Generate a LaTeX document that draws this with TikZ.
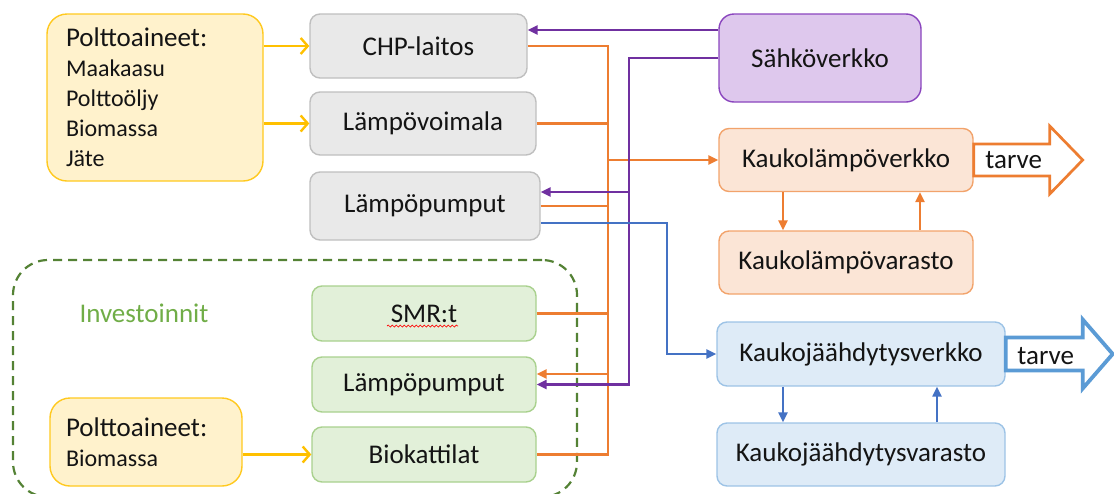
\documentclass[tikz,border=0pt]{standalone}
\usepackage{fontspec}
\setmainfont{Carlito}
\usetikzlibrary{arrows.meta,decorations.pathmorphing}
\definecolor{txt}{HTML}{141414}
\definecolor{greyfill}{HTML}{E9E9E9}
\definecolor{greyline}{HTML}{BFBFBF}
\definecolor{purfill}{HTML}{DEC8ED}
\definecolor{purline}{HTML}{8A45BE}
\definecolor{orgfill}{HTML}{FBE5D6}
\definecolor{orgline}{HTML}{F2A36B}
\definecolor{blufill}{HTML}{DEEBF7}
\definecolor{bluline}{HTML}{9DC3E6}
\definecolor{grnfill}{HTML}{E2F0D9}
\definecolor{grnline}{HTML}{A9D18E}
\definecolor{yelfill}{HTML}{FFF2CC}
\definecolor{yelline}{HTML}{FFC91F}
\definecolor{orng}{HTML}{ED7D31}
\definecolor{purp}{HTML}{7030A0}
\definecolor{blu}{HTML}{4472C4}
\definecolor{blutarve}{HTML}{5B9BD5}
\definecolor{yel}{HTML}{FFC000}
\definecolor{dashgrn}{HTML}{548235}
\definecolor{invgrn}{HTML}{70AD47}
\begin{document}
\begin{tikzpicture}[x=1pt,y=-1pt,>={Triangle[length=10pt,width=9pt]},
  box/.style={draw,rounded corners=10pt,line width=1.4pt,inner sep=0pt,
    align=center,text=txt,font=\fontsize{27}{32}\selectfont},
  greybox/.style={box,draw=greyline,fill=greyfill},
  grnbox/.style={box,draw=grnline,fill=grnfill,minimum width=224pt,minimum height=55pt},
  orgbox/.style={box,draw=orgline,fill=orgfill,minimum width=254pt,minimum height=63pt},
  blubox/.style={box,draw=bluline,fill=blufill,minimum width=288pt,minimum height=63pt},
  fuelbox/.style={draw=yelline,fill=yelfill,line width=1.4pt,rounded corners=20pt,
    align=left,text=txt,font=\fontsize{24}{30}\selectfont,inner ysep=0pt},
  heat/.style={orng,line width=2.7pt},
  elec/.style={purp,line width=2.7pt},
  cool/.style={blu,line width=2.7pt},
  fuel/.style={yel,line width=2.4pt,-{Straight Barb[length=7pt,width=16pt]}},
  tarvearrow/.style={fill=white,line join=miter},
  ]
  \useasboundingbox (0,0) rectangle (1114,493);
  \node[draw=dashgrn,line width=2.2pt,dash pattern=on 9pt off 6pt,rounded corners=35pt,
    minimum width=564pt,minimum height=237pt] (invbox) at (295,378.5) {};
  \node[text=invgrn,font=\fontsize{27}{32}\selectfont] (invtext) at (144,313) {Investoinnit};

  \node[fuelbox,text width=178pt,inner xsep=19pt,minimum height=167pt] (fuelA) at (155,97.5)
    {{\fontsize{27}{30}\selectfont Polttoaineet:}\\Maakaasu\\Polttoöljy\\Biomassa\\Jäte};
  \node[fuelbox,text width=160pt,inner xsep=16pt,minimum height=88pt] (fuelB) at (146,442)
    {{\fontsize{27}{30}\selectfont Polttoaineet:}\\Biomassa};

  \node[greybox,minimum width=217pt,minimum height=64pt] (chp) at (418.5,46) {CHP-laitos};
  \node[greybox,minimum width=226pt,minimum height=63pt] (lvo) at (423,123.5) {Lämpövoimala};
  \node[greybox,minimum width=230pt,minimum height=68pt] (lpg) at (425,206) {Lämpöpumput};
  \node[grnbox] (smr) at (424,313.5) {SMR:t};
  \node[grnbox] (lpv) at (424,384.5) {Lämpöpumput};
  \node[grnbox] (bio) at (424,454.5) {Biokattilat};
  \node[box,draw=purline,fill=purfill,rounded corners=15pt,minimum width=202pt,
    minimum height=88pt] (sahko) at (820,58) {Sähköverkko};
  \node[orgbox] (klv) at (846,160) {Kaukolämpöverkko};
  \node[orgbox] (klvar) at (846,262.5) {Kaukolämpövarasto};
  \node[blubox,minimum height=64pt] (kjv) at (861,354) {Kaukojäähdytysverkko};
  \node[blubox] (kjvar) at (861,454.5) {Kaukojäähdytysvarasto};

  \draw[red,line width=0.7pt,decorate,decoration={snake,amplitude=1pt,segment length=4pt}]
    ([xshift=-37pt,yshift=-12.5pt]smr.center) -- ([xshift=34pt,yshift=-12.5pt]smr.center);

  \coordinate (obus) at (608,0);
  \coordinate (pbus) at (629,0);
  \coordinate (bbus) at (667,0);

  \draw[fuel] (chp.west -| fuelA.east) -- (chp.west);
  \draw[fuel] (lvo.west -| fuelA.east) -- (lvo.west);
  \draw[fuel] (bio.west -| fuelB.east) -- (bio.west);

  \draw[heat] (chp.east) -- (chp.east -| obus) -- (obus |- bio.east) -- (bio.east);
  \draw[heat] (lvo.east) -- (lvo.east -| obus);
  \draw[heat] (lpg.east) -- (lpg.east -| obus);
  \draw[heat] (smr.east) -- (smr.east -| obus);
  \draw[heat,->] (obus |- klv.west) -- (klv.west);
  \draw[heat,->] ([yshift=10.5pt]lpv.east -| obus) -- ([yshift=10.5pt]lpv.east);

  \draw[elec,->] ([yshift=28pt]sahko.west) -- ([yshift=28pt]sahko.west -| chp.east);
  \draw[elec,->] (sahko.west) -- (sahko.west -| pbus) -- (pbus |- lpv.east) -- (lpv.east);
  \draw[elec,->] ([yshift=14pt]lpg.east -| pbus) -- ([yshift=14pt]lpg.east);

  \draw[cool,->] ([yshift=-17pt]lpg.east) -- ([yshift=-17pt]lpg.east -| bbus)
    -- (bbus |- kjv.west) -- (kjv.west);

  \draw[heat,line width=2.3pt,->] ([xshift=-63pt]klv.south) -- ([xshift=-63pt]klvar.north);
  \draw[heat,line width=2.3pt,->] ([xshift=74pt]klvar.north) -- ([xshift=74pt]klv.south);
  \draw[cool,line width=2.3pt,->] ([xshift=-78pt]kjv.south) -- ([xshift=-78pt]kjvar.north);
  \draw[cool,line width=2.3pt,->] ([xshift=76pt]kjvar.north) -- ([xshift=76pt]kjv.south);

  \draw[tarvearrow,draw=orng,line width=2.7pt] ([yshift=16pt]klv.east) -- ++(76,0) -- ++(0,-18)
    -- ([xshift=109pt]klv.east) -- ++(-33,34) -- ++(0,-18) -- ([yshift=-16pt]klv.east) -- cycle;
  \node[text=txt,font=\fontsize{27}{32}\selectfont] (tarveA) at ([xshift=40pt]klv.east) {tarve};
  \draw[tarvearrow,draw=blutarve,line width=3.8pt] ([yshift=16.5pt]kjv.east) -- ++(77,0) -- ++(0,-18)
    -- ([xshift=107pt]kjv.east) -- ++(-30,34.5) -- ++(0,-18) -- ([yshift=-16.5pt]kjv.east) -- cycle;
  \node[text=txt,font=\fontsize{27}{32}\selectfont] (tarveB) at ([xshift=40pt,yshift=-2pt]kjv.east) {tarve};
\end{tikzpicture}
\end{document}
